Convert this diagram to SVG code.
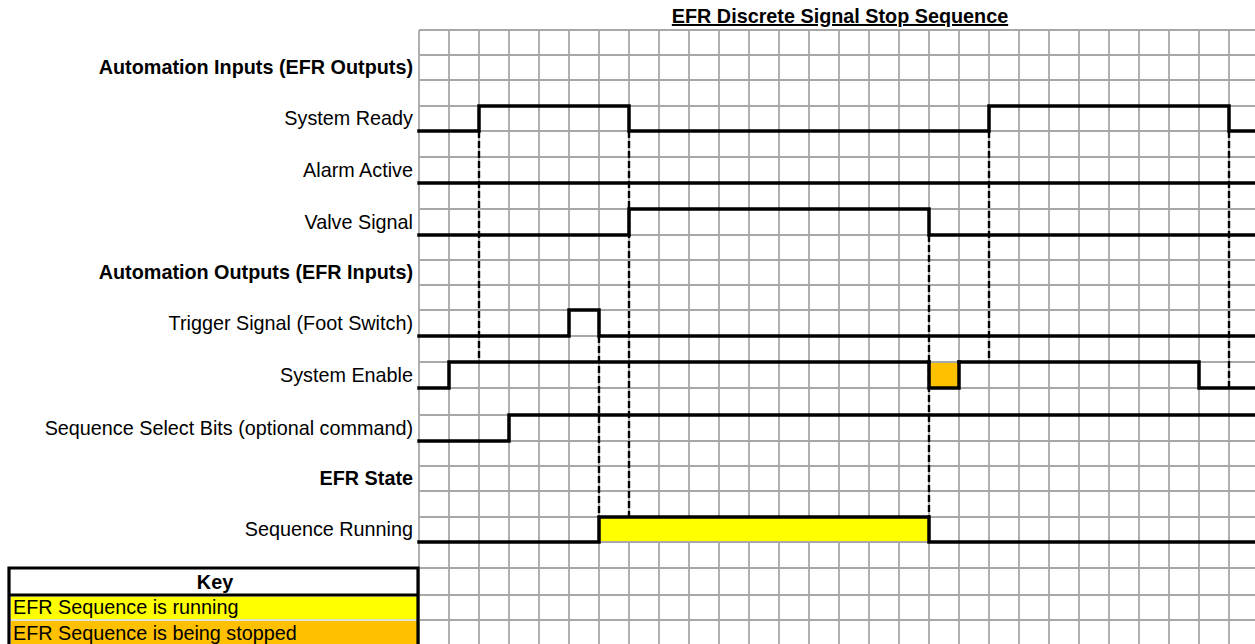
<svg xmlns="http://www.w3.org/2000/svg" width="1255" height="644" viewBox="0 0 1255 644">
<style>
.grid line{stroke:#a8a8a8;stroke-width:1.8}
.sig{fill:none;stroke:#000;stroke-width:3.5;stroke-linejoin:miter;stroke-linecap:square}
.dash{stroke:#000;stroke-width:2.4;stroke-dasharray:7 3;fill:none}
.lbl{font-family:"Liberation Sans",Arial,sans-serif;font-size:19.8px;fill:#000;text-anchor:end}
.bold{font-weight:bold;font-size:19.8px}
.key{font-family:"Liberation Sans",Arial,sans-serif;font-size:19.8px;fill:#000}
</style>
<rect width="1255" height="644" fill="#fff"/>
<text x="840" y="23" font-family="'Liberation Sans',Arial,sans-serif" font-size="19.8" font-weight="bold" text-anchor="middle" text-decoration="underline">EFR Discrete Signal Stop Sequence</text>
<g id="fills">
<rect x="599" y="517" width="330" height="25" fill="#ffff00"/>
<rect x="929" y="362" width="30" height="26" fill="#ffc000"/>
</g>
<g class="grid" id="grid">
<line x1="419" y1="30" x2="1255" y2="30"/>
<line x1="419" y1="55" x2="1255" y2="55"/>
<line x1="419" y1="80" x2="1255" y2="80"/>
<line x1="419" y1="106" x2="1255" y2="106"/>
<line x1="419" y1="131" x2="1255" y2="131"/>
<line x1="419" y1="157" x2="1255" y2="157"/>
<line x1="419" y1="183" x2="1255" y2="183"/>
<line x1="419" y1="209" x2="1255" y2="209"/>
<line x1="419" y1="235" x2="1255" y2="235"/>
<line x1="419" y1="260" x2="1255" y2="260"/>
<line x1="419" y1="285" x2="1255" y2="285"/>
<line x1="419" y1="310" x2="1255" y2="310"/>
<line x1="419" y1="336" x2="1255" y2="336"/>
<line x1="419" y1="362" x2="1255" y2="362"/>
<line x1="419" y1="388" x2="1255" y2="388"/>
<line x1="419" y1="415" x2="1255" y2="415"/>
<line x1="419" y1="441" x2="1255" y2="441"/>
<line x1="419" y1="466" x2="1255" y2="466"/>
<line x1="419" y1="491" x2="1255" y2="491"/>
<line x1="599" y1="517" x2="1255" y2="517"/>
<line x1="419" y1="517" x2="599" y2="517"/>
<line x1="419" y1="542" x2="1255" y2="542"/>
<line x1="419" y1="568" x2="1255" y2="568"/>
<line x1="419" y1="595" x2="1255" y2="595"/>
<line x1="419" y1="620" x2="1255" y2="620"/>
<line x1="419" y1="30" x2="419" y2="644"/>
<line x1="449" y1="30" x2="449" y2="644"/>
<line x1="479" y1="30" x2="479" y2="644"/>
<line x1="509" y1="30" x2="509" y2="644"/>
<line x1="539" y1="30" x2="539" y2="644"/>
<line x1="569" y1="30" x2="569" y2="644"/>
<line x1="599" y1="30" x2="599" y2="644"/>
<line x1="629" y1="30" x2="629" y2="517"/>
<line x1="629" y1="542" x2="629" y2="644"/>
<line x1="659" y1="30" x2="659" y2="517"/>
<line x1="659" y1="542" x2="659" y2="644"/>
<line x1="689" y1="30" x2="689" y2="517"/>
<line x1="689" y1="542" x2="689" y2="644"/>
<line x1="719" y1="30" x2="719" y2="517"/>
<line x1="719" y1="542" x2="719" y2="644"/>
<line x1="749" y1="30" x2="749" y2="517"/>
<line x1="749" y1="542" x2="749" y2="644"/>
<line x1="779" y1="30" x2="779" y2="517"/>
<line x1="779" y1="542" x2="779" y2="644"/>
<line x1="809" y1="30" x2="809" y2="517"/>
<line x1="809" y1="542" x2="809" y2="644"/>
<line x1="839" y1="30" x2="839" y2="517"/>
<line x1="839" y1="542" x2="839" y2="644"/>
<line x1="869" y1="30" x2="869" y2="517"/>
<line x1="869" y1="542" x2="869" y2="644"/>
<line x1="899" y1="30" x2="899" y2="517"/>
<line x1="899" y1="542" x2="899" y2="644"/>
<line x1="929" y1="30" x2="929" y2="644"/>
<line x1="959" y1="30" x2="959" y2="644"/>
<line x1="989" y1="30" x2="989" y2="644"/>
<line x1="1019" y1="30" x2="1019" y2="644"/>
<line x1="1049" y1="30" x2="1049" y2="644"/>
<line x1="1079" y1="30" x2="1079" y2="644"/>
<line x1="1109" y1="30" x2="1109" y2="644"/>
<line x1="1139" y1="30" x2="1139" y2="644"/>
<line x1="1169" y1="30" x2="1169" y2="644"/>
<line x1="1199" y1="30" x2="1199" y2="644"/>
<line x1="1229" y1="30" x2="1229" y2="644"/>
</g>
<g id="connectors">
<line class="dash" x1="479" y1="131" x2="479" y2="362"/>
<line class="dash" x1="629" y1="131" x2="629" y2="517"/>
<line class="dash" x1="599" y1="336" x2="599" y2="517"/>
<line class="dash" x1="929" y1="235" x2="929" y2="517"/>
<line class="dash" x1="989" y1="131" x2="989" y2="362"/>
<line class="dash" x1="1229" y1="131" x2="1229" y2="388"/>
</g>
<g id="system-ready">
<text class="lbl" x="413" y="125">System Ready</text>
<polyline class="sig" points="419,131 479,131 479,106 629,106 629,131 989,131 989,106 1229,106 1229,131 1256,131"/>
</g>
<g id="alarm-active">
<text class="lbl" x="413" y="177">Alarm Active</text>
<polyline class="sig" points="419,183 1256,183"/>
</g>
<g id="valve-signal">
<text class="lbl" x="413" y="229">Valve Signal</text>
<polyline class="sig" points="419,235 629,235 629,209 929,209 929,235 1256,235"/>
</g>
<g id="header-inputs">
<text class="lbl bold" x="413" y="74">Automation Inputs (EFR Outputs)</text>
</g>
<g id="header-outputs">
<text class="lbl bold" x="413" y="279">Automation Outputs (EFR Inputs)</text>
</g>
<g id="trigger-signal">
<text class="lbl" x="413" y="330">Trigger Signal (Foot Switch)</text>
<polyline class="sig" points="419,336 569,336 569,310 599,310 599,336 1256,336"/>
</g>
<g id="system-enable">
<text class="lbl" x="413" y="382">System Enable</text>
<polyline class="sig" points="419,388 449,388 449,362 929,362"/>
<polyline class="sig" points="929,362 929,388 959,388 959,362"/>
<polyline class="sig" points="959,362 1199,362 1199,388 1256,388"/>
</g>
<g id="sequence-select">
<text class="lbl" x="413" y="435">Sequence Select Bits (optional command)</text>
<polyline class="sig" points="419,441 509,441 509,415 1256,415"/>
</g>
<g id="header-state">
<text class="lbl bold" x="413" y="485">EFR State</text>
</g>
<g id="sequence-running">
<text class="lbl" x="413" y="536">Sequence Running</text>
<polyline class="sig" points="419,542 599,542 599,517 929,517 929,542 1256,542"/>
</g>
<g id="key">
<rect x="11" y="596.5" width="406" height="23" fill="#ffff00"/>
<rect x="11" y="621" width="406" height="25" fill="#ffc000"/>
<line x1="9" y1="620" x2="418" y2="620" stroke="#d8d8d8" stroke-width="1.5"/>
<path d="M9,650 V568 H418 V650" fill="none" stroke="#000" stroke-width="3.2"/>
<line x1="9" y1="595" x2="418" y2="595" stroke="#000" stroke-width="3"/>
<text class="key" x="215" y="589" text-anchor="middle" font-weight="bold" font-size="19.8">Key</text>
<text class="key" x="13" y="614">EFR Sequence is running</text>
<text class="key" x="13" y="640">EFR Sequence is being stopped</text>
</g>
</svg>
